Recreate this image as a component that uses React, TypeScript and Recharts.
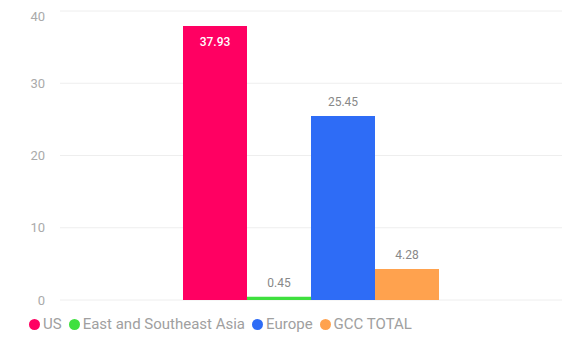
import React from 'react';
import { BarChart, Bar, XAxis, YAxis, CartesianGrid, Legend, LabelList } from 'recharts';

const categories = [''];
const seriesNames = ['US', 'East and Southeast Asia', 'Europe', 'GCC TOTAL'];
const usValues = [37.93];
const asiaValues = [0.45];
const europeValues = [25.45];
const gccValues = [4.28];
const yTicks = [0, 10, 20, 30, 40];

const data = categories.map((c, i) => ({
  name: c,
  us: usValues[i],
  asia: asiaValues[i],
  europe: europeValues[i],
  gcc: gccValues[i],
}));

const COLORS = ['#ff0062', '#3fe03f', '#2e6cf6', '#ffa24e'];
const FONT = 'Roboto, "Noto Sans", sans-serif';

const LegendContent = () => (
  <div style={{ display: 'flex', alignItems: 'center', fontFamily: FONT, fontSize: 15, color: '#a0a0a0' }}>
    {seriesNames.map((n, i) => (
      <div key={n} style={{ display: 'flex', alignItems: 'center', marginRight: 7 }}>
        <span
          style={{
            display: 'inline-block',
            width: 11,
            height: 11,
            borderRadius: '50%',
            background: COLORS[i],
            marginRight: 3,
          }}
        />
        <span>{n}</span>
      </div>
    ))}
  </div>
);

export default function App() {
  return (
    <div style={{ fontFamily: FONT }}>
      <BarChart
        width={566}
        height={332}
        data={data}
        margin={{ top: 3, right: 12, left: 0, bottom: 6 }}
        barGap={0}
      >
        <CartesianGrid vertical={false} stroke="#eeeeee" />
        <XAxis dataKey="name" axisLine={false} tickLine={false} tick={false} height={15} />
        <YAxis
          domain={[0, 40]}
          ticks={yTicks}
          axisLine={false}
          tickLine={false}
          tickSize={0}
          tickMargin={15}
          width={52}
          tick={{ fill: '#aaaaaa', fontSize: 13, fontFamily: FONT }}
        />
        <Legend
          verticalAlign="bottom"
          align="left"
          content={<LegendContent />}
          wrapperStyle={{ left: 21, height: 19 }}
        />
        <Bar dataKey="us" name={seriesNames[0]} fill={COLORS[0]} barSize={64} isAnimationActive={false}>
          <LabelList dataKey="us" position="insideTop" offset={12} fill="#ffffff" fontSize={12} fontWeight={500} fontFamily={FONT} />
        </Bar>
        <Bar dataKey="asia" name={seriesNames[1]} fill={COLORS[1]} barSize={64} isAnimationActive={false}>
          <LabelList dataKey="asia" position="top" offset={10} fill="#888888" fontSize={12} fontFamily={FONT} />
        </Bar>
        <Bar dataKey="europe" name={seriesNames[2]} fill={COLORS[2]} barSize={64} isAnimationActive={false}>
          <LabelList dataKey="europe" position="top" offset={10} fill="#888888" fontSize={12} fontFamily={FONT} />
        </Bar>
        <Bar dataKey="gcc" name={seriesNames[3]} fill={COLORS[3]} barSize={64} isAnimationActive={false}>
          <LabelList dataKey="gcc" position="top" offset={10} fill="#888888" fontSize={12} fontFamily={FONT} />
        </Bar>
      </BarChart>
    </div>
  );
}
